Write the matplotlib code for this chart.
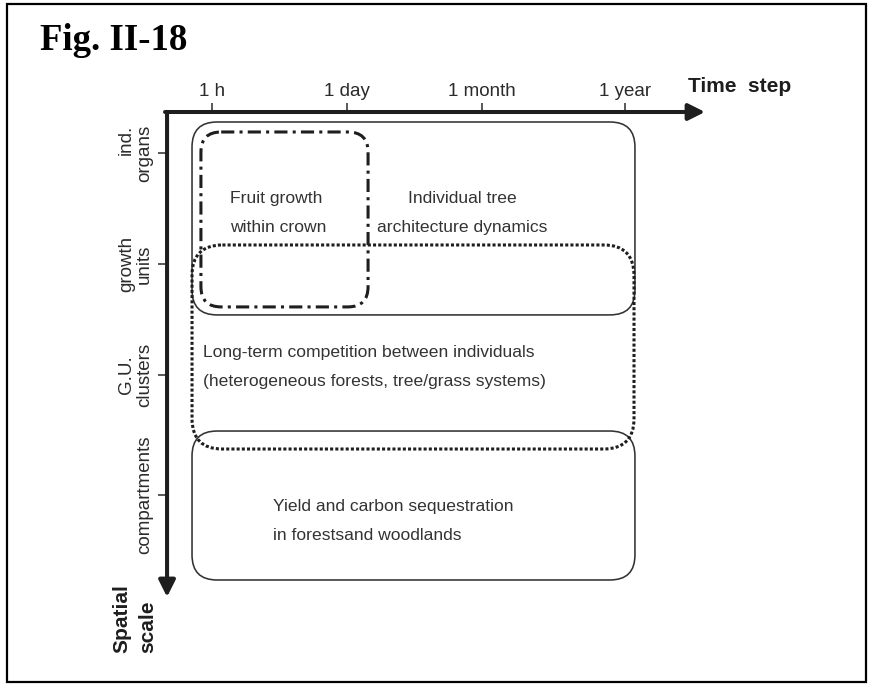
import matplotlib.pyplot as plt
from matplotlib.patches import FancyBboxPatch, Rectangle

plt.rcParams['font.family'] = ['Liberation Sans', 'DejaVu Sans']

# axes scales (time step along x, spatial scale down y)
time_labels = ['1 h', '1 day', '1 month', '1 year']
time_pos = [1, 2, 3, 4.06]
space_labels = ['ind.\norgans', 'growth\nunits', 'G.U.\nclusters', 'compartments']
space_pos = [1, 2, 3, 4.08]

# model domains: extent in time step units and spatial scale units
box_t0 = [0.852, 0.918, 0.852, 0.852]
box_t1 = [4.133, 2.156, 4.126, 4.133]
box_s0 = [0.721, 0.811, 1.829, 3.505]
box_s1 = [2.459, 2.387, 3.667, 4.847]
box_text = ['Individual tree\narchitecture dynamics',
            'Fruit growth\nwithin crown',
            'Long-term competition between individuals\n(heterogeneous forests, tree/grass systems)',
            'Yield and carbon sequestration\nin forestsand woodlands']
text_t = [2.852, 1.133, 0.933, 1.452]
text_s = [1.54, 1.54, 2.93, 4.318]
text_ha = ['center', 'left', 'left', 'left']

# look of each domain outline
box_ls = ['-', (0, (4.3, 1.7, 1, 1.7)), (0, (1, 0.7)), '-']
box_lw = [1.15, 2.2, 2.2, 1.15]
box_round = [0.185, 0.15, 0.225, 0.185]
box_z = [2, 4, 3, 2]

ink = '#2b2b2b'
px_x, px_y = 135.0, 111.0   # pixels per unit on each scale

fig = plt.figure(figsize=(8.69, 6.84), dpi=100)
ax = fig.add_axes([0, 0, 1, 1])
ax.set_xlim(-0.5704, 5.8667)
ax.set_ylim(5.784, -0.378)
ax.patch.set_alpha(0)
for s in ax.spines.values():
    s.set_visible(False)

# axes with arrows
t_axis = 0.631
s_axis = 0.667
ax.annotate('', xy=(4.652, t_axis), xytext=(0.652, t_axis),
            arrowprops=dict(arrowstyle='-|>,head_length=0.5,head_width=0.25',
                            lw=2.9, color='#1e1e1e', mutation_scale=20,
                            shrinkA=0, shrinkB=0))
ax.annotate('', xy=(s_axis, 5.0), xytext=(s_axis, 0.631),
            arrowprops=dict(arrowstyle='-|>,head_length=0.5,head_width=0.25',
                            lw=2.9, color='#1e1e1e', mutation_scale=20,
                            shrinkA=0, shrinkB=0))

ax.spines['top'].set_position(('data', t_axis))
ax.spines['left'].set_position(('data', s_axis))
ax.xaxis.set_ticks_position('top')
ax.yaxis.set_ticks_position('left')
ax.set_xticks(time_pos, time_labels)
ax.set_yticks(space_pos, space_labels)
ax.tick_params(axis='both', direction='out', length=6.5, width=1.1,
               color=ink, labelcolor=ink, labelsize=13.5)
ax.tick_params(axis='x', pad=2)
ax.tick_params(axis='y', pad=3.5, labelrotation=90)
for i, tick in enumerate(ax.yaxis.get_major_ticks()):
    tick.label1.set_va('center')
    tick.label1.set_linespacing(1.1)
    tick.label1.set_multialignment('right' if i == 0 else 'center')

ax.text(4.526, 0.4505, 'Time  step', fontsize=15, fontweight='bold',
        color='#1e1e1e', ha='left', va='baseline')
ax.text(0.43, 5.505, 'Spatial\nscale', fontsize=15, fontweight='bold',
        color='#1e1e1e', rotation=90, ha='center', va='bottom',
        multialignment='left', linespacing=1.45)

for i in range(len(box_text)):
    patch = FancyBboxPatch((box_t0[i], box_s0[i]), box_t1[i] - box_t0[i],
                           box_s1[i] - box_s0[i],
                           boxstyle='round,pad=0,rounding_size=%g' % box_round[i],
                           mutation_aspect=px_x / px_y, fill=False,
                           edgecolor='#1e1e1e' if box_lw[i] > 2 else '#333333',
                           linewidth=box_lw[i], linestyle=box_ls[i],
                           zorder=box_z[i])
    ax.add_patch(patch)
    ax.text(text_t[i], text_s[i], box_text[i], fontsize=12.6, color='#333333',
            ha=text_ha[i], va='center', multialignment='center' if text_ha[i] == 'center' else 'left',
            linespacing=2.15, zorder=5)

fig.text(40 / 869, 1 - 50 / 684, 'Fig. II-18', fontsize=26.5, fontweight='bold',
         family='Liberation Serif', ha='left', va='baseline', color='black')
fig.patches.append(Rectangle((0.008, 0.003), 0.9885, 0.9912, transform=fig.transFigure,
                             fill=False, edgecolor='black', linewidth=1.6))

fig.savefig('out.png', dpi=100)
